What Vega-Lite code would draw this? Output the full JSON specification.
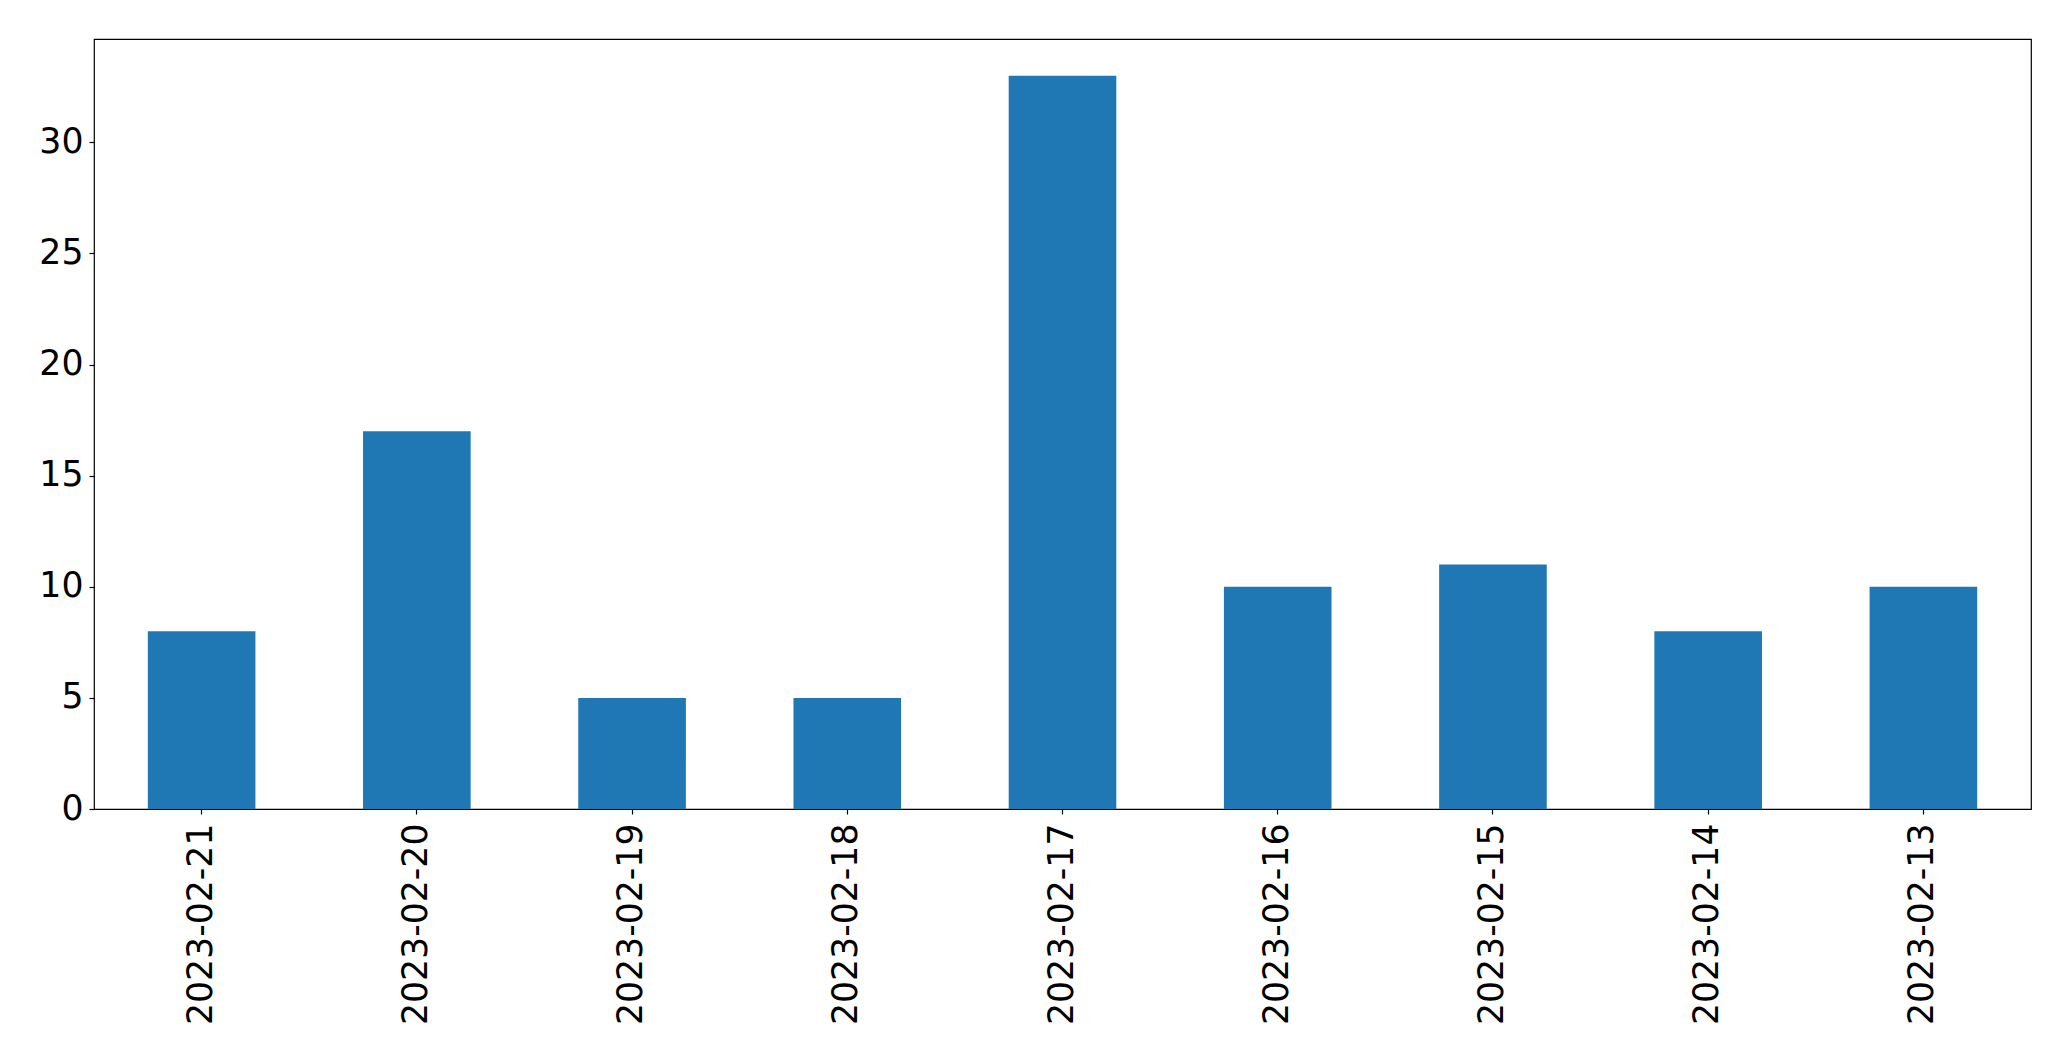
{
  "$schema": "https://vega.github.io/schema/vega-lite/v6.json",
  "width": 1937,
  "height": 770,
  "autosize": {"type": "none"},
  "padding": {"left": 94, "top": 39, "right": 40, "bottom": 252},
  "background": "white",
  "config": {
    "view": {"stroke": "black", "strokeWidth": 1.2},
    "font": "DejaVu Sans"
  },
  "data": {
    "values": [
      {"date": "2023-02-21", "count": 8},
      {"date": "2023-02-20", "count": 17},
      {"date": "2023-02-19", "count": 5},
      {"date": "2023-02-18", "count": 5},
      {"date": "2023-02-17", "count": 33},
      {"date": "2023-02-16", "count": 10},
      {"date": "2023-02-15", "count": 11},
      {"date": "2023-02-14", "count": 8},
      {"date": "2023-02-13", "count": 10}
    ]
  },
  "mark": {"type": "bar", "color": "#1f77b4"},
  "encoding": {
    "x": {
      "field": "date",
      "type": "nominal",
      "sort": null,
      "scale": {"paddingInner": 0.5, "paddingOuter": 0.25},
      "axis": {
        "title": null,
        "labelAngle": -90,
        "labelFontSize": 34.7,
        "labelFont": "DejaVu Sans",
        "labelColor": "black",
        "labelPadding": 9,
        "labelLimit": 0,
        "domain": false,
        "tickColor": "black",
        "tickSize": 5,
        "tickWidth": 1.2
      }
    },
    "y": {
      "field": "count",
      "type": "quantitative",
      "scale": {"domain": [0, 34.65], "nice": false},
      "axis": {
        "title": null,
        "values": [0, 5, 10, 15, 20, 25, 30],
        "grid": false,
        "labelFontSize": 34.7,
        "labelFont": "DejaVu Sans",
        "labelColor": "black",
        "labelPadding": 6,
        "domain": false,
        "tickColor": "black",
        "tickSize": 5,
        "tickWidth": 1.2
      }
    }
  }
}
